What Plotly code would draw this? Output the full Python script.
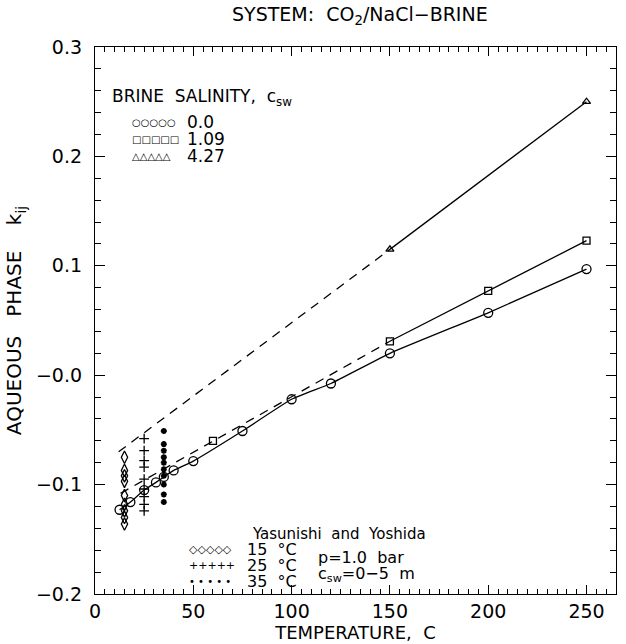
import plotly.graph_objects as go

# Brine salinity c_sw = 0.0 (open circles, fitted curve)
t_c0 = [12.5, 18, 25, 31, 35, 40, 50, 75, 100, 120, 150, 200, 250]
k_c0 = [-0.123, -0.116, -0.105, -0.098, -0.093, -0.087, -0.0785, -0.051, -0.022, -0.0076, 0.020, 0.057, 0.097]

# c_sw = 1.09 (open squares)
t_c1 = [60, 150, 200, 250]
k_c1 = [-0.060, 0.031, 0.077, 0.123]

# c_sw = 4.27 (open triangles)
t_c4 = [150, 250]
k_c4 = [0.115, 0.250]

# Low-temperature extrapolation of the model (dashed)
t_ext = [13, 150]
k_ext_c1 = [-0.108, 0.031]
t_ext4 = [12, 150]
k_ext_c4 = [-0.070, 0.115]

# Yasunishi and Yoshida data, p = 1.0 bar
t_15 = 15
k_15 = [-0.075, -0.087, -0.092, -0.097, -0.110, -0.118, -0.124, -0.130, -0.136]
t_25 = 25
k_25 = [-0.058, -0.069, -0.078, -0.084, -0.095, -0.104, -0.111, -0.118, -0.124]
t_35 = 35
k_35 = [-0.051, -0.063, -0.069, -0.075, -0.080, -0.086, -0.092, -0.100, -0.109, -0.116]

y_tickvals = [0.3, 0.2, 0.1, 0.0, -0.1, -0.2]
y_ticktext = ["0.3", "0.2", "0.1", "\u22120.0", "\u22120.1", "\u22120.2"]
x_tickvals = [0, 50, 100, 150, 200, 250]

FONT = "DejaVu Sans, sans-serif"
BLACK = "black"

fig = go.Figure()

# dashed model lines
fig.add_trace(go.Scatter(x=t_ext, y=k_ext_c1, mode="lines",
                         line=dict(color=BLACK, width=1.3, dash="9px,7px")))
fig.add_trace(go.Scatter(x=t_ext4, y=k_ext_c4, mode="lines",
                         line=dict(color=BLACK, width=1.3, dash="9px,7px")))

# solid model lines with data markers
fig.add_trace(go.Scatter(x=t_c0, y=k_c0, mode="lines+markers",
                         line=dict(color=BLACK, width=1.3, shape="spline", smoothing=0.4),
                         marker=dict(symbol="circle-open", size=9, color=BLACK, line=dict(width=1.3))))
fig.add_trace(go.Scatter(x=t_c1[1:], y=k_c1[1:], mode="lines",
                         line=dict(color=BLACK, width=1.3)))
fig.add_trace(go.Scatter(x=t_c1, y=k_c1, mode="markers",
                         marker=dict(symbol="square-open", size=7, color=BLACK, line=dict(width=1.3))))
fig.add_trace(go.Scatter(x=t_c4, y=k_c4, mode="lines+markers",
                         line=dict(color=BLACK, width=1.3),
                         marker=dict(symbol="triangle-up-open", size=7, color=BLACK, line=dict(width=1.3))))

# literature data
fig.add_trace(go.Scatter(x=[t_15] * len(k_15), y=k_15, mode="markers",
                         marker=dict(symbol="diamond-tall-open", size=9, color=BLACK, line=dict(width=1.3))))
fig.add_trace(go.Scatter(x=[t_25] * len(k_25), y=k_25, mode="markers",
                         marker=dict(symbol="cross-thin-open", size=7, color=BLACK, line=dict(width=1.3))))
fig.add_trace(go.Scatter(x=[t_35] * len(k_35), y=k_35, mode="markers",
                         marker=dict(symbol="asterisk-open", size=5, color=BLACK, line=dict(width=1.8))))

axis_common = dict(
    showline=True, linecolor=BLACK, linewidth=1.3, mirror="allticks",
    ticks="inside", tickcolor=BLACK, tickwidth=1, showgrid=False, zeroline=False,
    tickfont=dict(family=FONT, size=19, color=BLACK),
)

fig.update_xaxes(range=[0, 265], tickvals=x_tickvals, ticklen=9,
                 minor=dict(dtick=5, tick0=0, ticklen=5, ticks="inside", tickcolor=BLACK, tickwidth=1),
                 title=dict(text="TEMPERATURE,  C", font=dict(family=FONT, size=18, color=BLACK), standoff=0),
                 **axis_common)
fig.update_yaxes(range=[-0.2, 0.3], tickvals=y_tickvals, ticktext=y_ticktext, ticklen=10,
                 ticklabelstandoff=8,
                 minor=dict(dtick=0.02, tick0=0, ticklen=6, ticks="inside", tickcolor=BLACK, tickwidth=1),
                 title=dict(text="AQUEOUS   PHASE    k<sub>ij</sub>", font=dict(family=FONT, size=20, color=BLACK), standoff=8),
                 **axis_common)

ann = []


def note(text, x, y, size, xanchor="left", yanchor="middle"):
    ann.append(dict(text=text, x=x, y=y, xref="paper", yref="paper", showarrow=False,
                    xanchor=xanchor, yanchor=yanchor, font=dict(family=FONT, size=size, color=BLACK)))


note("SYSTEM:  CO<sub>2</sub>/NaCl\u2212BRINE", 0.508, 1.058, 19, xanchor="center")

# salinity key
note("BRINE  SALINITY,  c<sub>sw</sub>", 0.028, 0.907, 17)
note("\u25cb\u25cb\u25cb\u25cb\u25cb", 0.068, 0.862, 10)
note("0.0", 0.172, 0.862, 17)
note("\u25a1\u25a1\u25a1\u25a1\u25a1", 0.068, 0.831, 10)
note("1.09", 0.172, 0.831, 17)
note("\u25b3\u25b3\u25b3\u25b3\u25b3", 0.068, 0.800, 10)
note("4.27", 0.172, 0.800, 17)

# literature key
note("Yasunishi  and  Yoshida", 0.297, 0.110, 15)
note("\u25c7\u25c7\u25c7\u25c7\u25c7", 0.176, 0.0818, 11)
note("15  \u00b0C", 0.287, 0.0818, 16)
note("+++++", 0.176, 0.0527, 11)
note("25  \u00b0C", 0.287, 0.0527, 16)
note("\u2022 \u2022 \u2022 \u2022 \u2022", 0.176, 0.0236, 10)
note("35  \u00b0C", 0.287, 0.0236, 16)
note("p=1.0  bar", 0.425, 0.0673, 16)
note("c<sub>sw</sub>=0\u22125  m", 0.425, 0.0364, 16)

fig.update_layout(
    width=626, height=644,
    margin=dict(l=95, r=9, t=47, b=47),
    paper_bgcolor="white", plot_bgcolor="white",
    showlegend=False,
    annotations=ann,
    font=dict(family=FONT, color=BLACK),
)

fig.write_html("out.html")
